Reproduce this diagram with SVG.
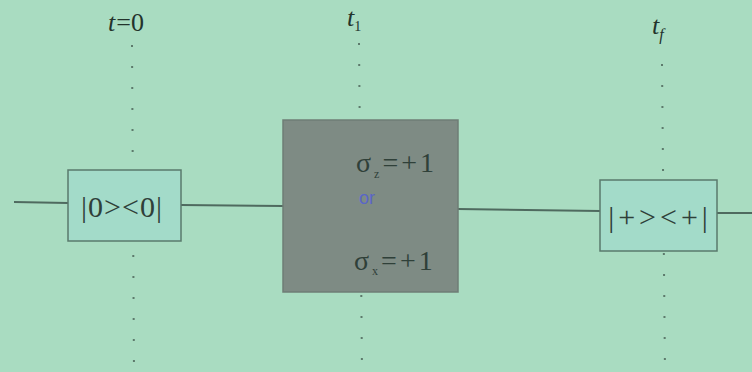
<svg xmlns="http://www.w3.org/2000/svg" width="752" height="372" viewBox="0 0 752 372">
<style>
.bg{fill:#a9dcc1}
.wire{stroke:#4f6a5f;stroke-width:2;fill:none}
.dots{stroke:#5d7a6c;stroke-width:2;stroke-dasharray:2 19;fill:none}
.box{fill:#a3dbc9;stroke:#5a7a6c;stroke-width:1.5}
.gbox{fill:#7e8b84;stroke:#6f7d76;stroke-width:1.5}
.lbl{font-family:"Liberation Serif",serif;fill:#2f4039}
.tlbl{font-family:"Liberation Serif",serif;font-style:italic;fill:#23332c}
</style>
<rect class="bg" x="0" y="0" width="752" height="372"/>
<g id="timelines">
<line class="dots" x1="132" y1="45" x2="134" y2="372"/>
<line class="dots" x1="359" y1="43" x2="362" y2="372"/>
<line class="dots" x1="662" y1="64" x2="665" y2="372"/>
</g>
<g id="time-labels">
<text class="tlbl" x="108" y="31" font-size="26">t<tspan font-style="normal" dx="1">=0</tspan></text>
<text class="tlbl" x="347" y="26" font-size="26">t<tspan font-style="normal" font-size="14" dy="5">1</tspan></text>
<text class="tlbl" x="652" y="34" font-size="26">t<tspan font-size="16" dy="6">f</tspan></text>
</g>
<g id="connectors">
<line class="wire" x1="14" y1="202" x2="68" y2="203"/>
<line class="wire" x1="181" y1="205" x2="283" y2="206"/>
<line class="wire" x1="458" y1="209" x2="600" y2="211"/>
<line class="wire" x1="717" y1="213" x2="752" y2="213"/>
</g>
<g id="node-proj0">
<rect class="box" x="68" y="170" width="113" height="71"/>
<text class="lbl" x="122" y="217" font-size="30" text-anchor="middle" letter-spacing="1">|0&gt;&lt;0|</text>
</g>
<g id="node-measure">
<rect class="gbox" x="283" y="120" width="175" height="172"/>
<text class="lbl" x="356" y="172" font-size="28" fill="#3c4843" letter-spacing="3">σ<tspan font-size="12" dy="6">z</tspan><tspan dy="-6">=+1</tspan></text>
<text x="359" y="204" font-size="18" font-family="Liberation Sans,sans-serif" fill="#5a66c8">or</text>
<text class="lbl" x="354" y="270" font-size="28" fill="#3c4843" letter-spacing="3">σ<tspan font-size="12" dy="5">x</tspan><tspan dy="-5">=+1</tspan></text>
</g>
<g id="node-projplus">
<rect class="box" x="600" y="180" width="117" height="71"/>
<text class="lbl" x="660" y="227" font-size="30" text-anchor="middle" letter-spacing="4">|+&gt;&lt;+|</text>
</g>
</svg>
